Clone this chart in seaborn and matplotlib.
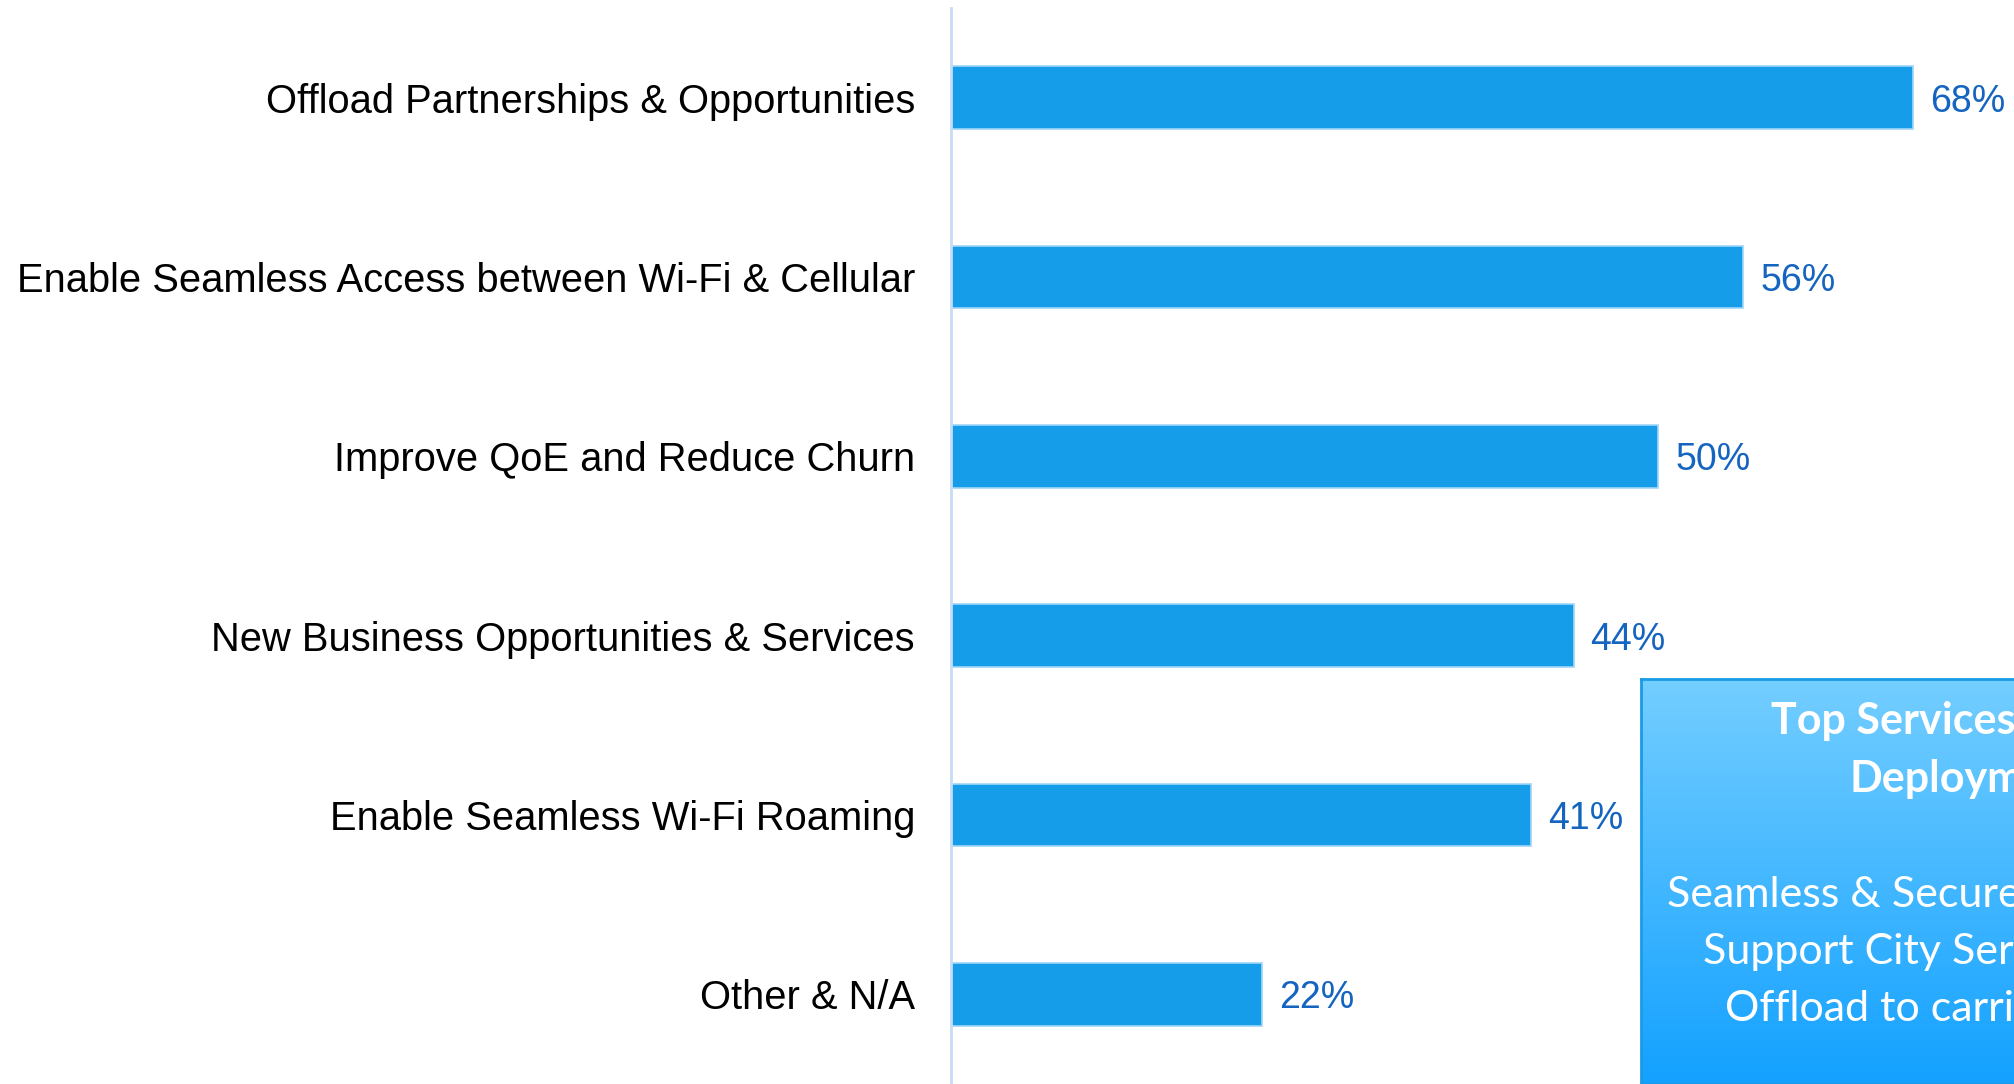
"""Horizontal bar chart of Wi-Fi drivers with a gradient side note."""

import matplotlib.pyplot as plt
import numpy as np
import pandas as pd
import seaborn as sns

categories = [
    "Offload Partnerships & Opportunities",
    "Enable Seamless Access between Wi-Fi & Cellular",
    "Improve QoE and Reduce Churn",
    "New Business Opportunities & Services",
    "Enable Seamless Wi-Fi Roaming",
    "Other & N/A",
]
values = [68, 56, 50, 44, 41, 22]
value_labels = ["68%", "56%", "50%", "44%", "41%", "22%"]

note_title = ["Top Services for City", "Deployments"]
note_lines = ["Seamless & Secure Access", "Support City Services", "Offload to carriers"]

BAR = "#159DEA"
LABEL = "#1565C0"


def main():
    df = pd.DataFrame({"category": categories, "value": values})

    sns.set_style("white")
    plt.rcParams["font.family"] = ["Liberation Sans", "DejaVu Sans"]

    fig = plt.figure(figsize=(20.15, 10.84), dpi=100)
    ax = fig.add_axes([0.472, 0.0, 0.528, 0.9926])

    sns.barplot(data=df, x="value", y="category", orient="h", color=BAR,
                width=0.35, saturation=1, edgecolor="#9FD6F7", linewidth=1.2,
                ax=ax)

    ax.set_xlim(0, 75.2)
    ax.set_ylim(5.5, -0.5)
    ax.set_xlabel("")
    ax.set_ylabel("")
    ax.set_xticks([])
    ax.tick_params(axis="y", length=0, pad=26, labelsize=28.7,
                   labelcolor="black")
    for side in ["top", "right", "bottom"]:
        ax.spines[side].set_visible(False)
    ax.spines["left"].set_color("#C5DDF5")
    ax.spines["left"].set_linewidth(2)

    for i, (v, lab) in enumerate(zip(values, value_labels)):
        ax.text(v + 1.2, i, lab, va="center_baseline", ha="left", fontsize=27,
                color=LABEL)

    # gradient note box, clipped by the figure edge like the original
    box = fig.add_axes([0.8144, 0.0, 0.1856, 0.3736])
    grad = np.linspace(0, 1, 256).reshape(-1, 1)
    cmap = sns.blend_palette(["#74CEFF", "#13A1FF"], as_cmap=True)
    box.imshow(grad, aspect="auto", cmap=cmap, extent=[0, 1, 0, 1],
               origin="upper")
    box.set_xticks([])
    box.set_yticks([])
    for side in box.spines.values():
        side.set_color("#1A9BE8")
        side.set_linewidth(2)

    fig.text(0.879, 0.3229, note_title[0], ha="left", va="baseline",
             fontsize=31, fontweight="bold", color="white", family="Lato")
    fig.text(0.918, 0.2694, note_title[1], ha="left", va="baseline",
             fontsize=31, fontweight="bold", color="white", family="Lato")
    starts = [0.8273, 0.8452, 0.8561]
    bases = [0.1633, 0.1107, 0.0581]
    for txt, x0, y0 in zip(note_lines, starts, bases):
        fig.text(x0, y0, txt, ha="left", va="baseline", fontsize=31,
                 color="white", family="Lato")

    fig.savefig("out.png", dpi=100)
    plt.close(fig)


if __name__ == "__main__":
    main()
